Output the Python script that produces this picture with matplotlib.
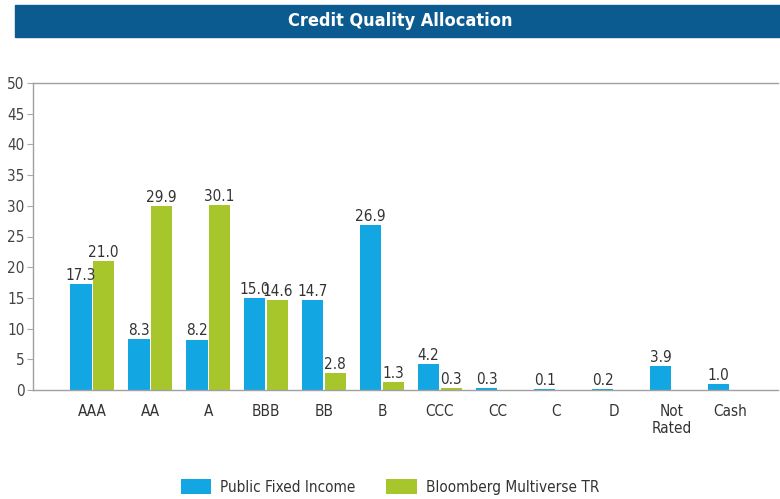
import matplotlib.pyplot as plt
import numpy as np
from matplotlib.patches import Rectangle

plt.rcParams['font.family'] = ['DejaVu Sans']
plt.rcParams['font.stretch'] = 'condensed'

categories = ["AAA", "AA", "A", "BBB", "BB", "B", "CCC", "CC", "C", "D", "Not\nRated", "Cash"]
public_fixed_income = [17.3, 8.3, 8.2, 15.0, 14.7, 26.9, 4.2, 0.3, 0.1, 0.2, 3.9, 1.0]
multiverse_tr = [21.0, 29.9, 30.1, 14.6, 2.8, 1.3, 0.3, None, None, None, None, None]
y_ticks = list(range(0, 55, 5))

BLUE = "#12a6e2"
GREEN = "#a6c62c"
BANNER = "#0b5b91"

fig = plt.figure(figsize=(7.8, 4.99), dpi=100)

# title banner across the top
fig.patches.append(Rectangle((15 / 780, 1 - 37 / 499), 765 / 780, 32 / 499,
                             transform=fig.transFigure, color=BANNER, zorder=0))
fig.text(400 / 780, 1 - 21 / 499, "Credit Quality Allocation", color="white",
         fontsize=13, fontweight="bold", ha="center", va="center")

ax = fig.add_axes([33 / 780, 1 - 390 / 499, 745 / 780, 307 / 499])

x = np.arange(len(categories))
w = 0.37
gap = 0.02

for i, (p, m) in enumerate(zip(public_fixed_income, multiverse_tr)):
    ax.bar(x[i] - w / 2 - gap / 2, p, width=w, color=BLUE,
           label="Public Fixed Income" if i == 0 else None)
    ax.text(x[i] - w / 2 - gap / 2, p + 0.2, f"{p:.1f}", ha="center", va="bottom",
            fontsize=11, color="#333333")
    if m is not None:
        ax.bar(x[i] + w / 2 + gap / 2, m, width=w, color=GREEN,
               label="Bloomberg Multiverse TR" if i == 0 else None)
        ax.text(x[i] + w / 2 + gap / 2, m + 0.2, f"{m:.1f}", ha="center", va="bottom",
                fontsize=11, color="#333333")

ax.set_xlim(-1.02, len(categories) - 1 + 0.83)
ax.set_ylim(0, 50)
ax.set_yticks(y_ticks)
ax.set_xticks(x)
ax.set_xticklabels(categories)
ax.tick_params(axis="x", length=0, pad=10, labelsize=11, colors="#333333")
ax.tick_params(axis="y", length=4, width=0.8, color="#aaaaaa", pad=2,
               labelsize=11, labelcolor="#444444")
for s in ax.spines.values():
    s.set_color("#a0a0a0")
    s.set_linewidth(1.0)
ax.spines["right"].set_visible(False)

fig.legend(loc="center", bbox_to_anchor=(0.5, 1 - 487 / 499), ncol=2, frameon=False,
           fontsize=11, handlelength=2.0, handleheight=1.1, handletextpad=0.6,
           columnspacing=2.0, labelcolor="#333333")

fig.savefig("out.png", dpi=100)
